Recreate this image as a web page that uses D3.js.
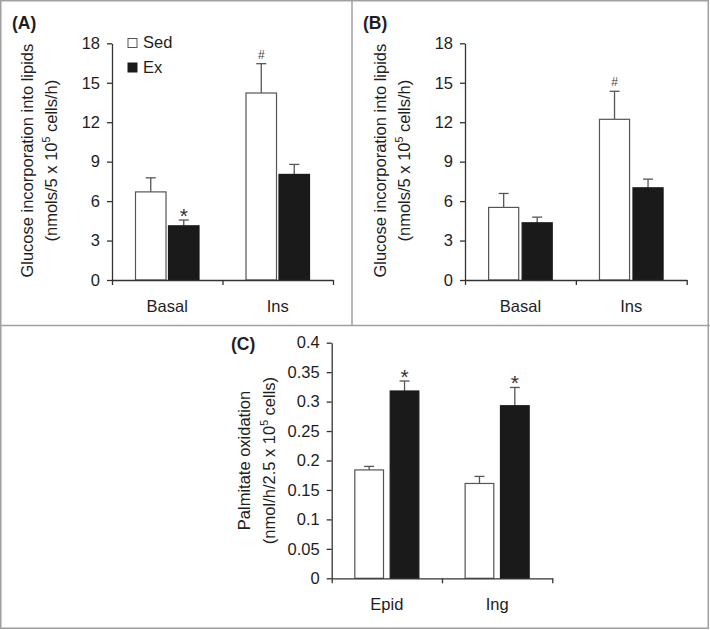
<!DOCTYPE html>
<html>
<head>
<meta charset="utf-8">
<script src="https://cdn.jsdelivr.net/npm/d3@7"></script>
<style>
  html, body { margin: 0; padding: 0; background: #fff; }
  svg { display: block; font-family: "Liberation Sans", Arial, sans-serif; }
</style>
</head>
<body>
<svg id="chart" width="710" height="630"></svg>
<script>
// ---------- data ----------
const seriesNames = ["Sed", "Ex"];
const categoriesAB = ["Basal", "Ins"];
const categoriesC = ["Epid", "Ing"];

const aSed = [6.7, 14.22];
const aSedErr = [1.07, 2.23];
const aEx = [4.12, 8.03];
const aExErr = [0.44, 0.76];

const bSed = [5.52, 12.22];
const bSedErr = [1.06, 2.13];
const bEx = [4.35, 7.01];
const bExErr = [0.43, 0.66];

const cSed = [0.184, 0.161];
const cSedErr = [0.006, 0.012];
const cEx = [0.318, 0.293];
const cExErr = [0.017, 0.031];

const ticksAB = [0, 3, 6, 9, 12, 15, 18];
const tickLabelsAB = ["0", "3", "6", "9", "12", "15", "18"];
const ticksC = [0, 0.05, 0.1, 0.15, 0.2, 0.25, 0.3, 0.35, 0.4];
const tickLabelsC = ["0", "0.05", "0.1", "0.15", "0.2", "0.25", "0.3", "0.35", "0.4"];

// annotations: [categoryIndex, seriesIndex, symbol]
const marksA = [[0, 1, "*"], [1, 0, "#"]];
const marksB = [[1, 0, "#"]];
const marksC = [[0, 1, "*"], [1, 1, "*"]];

// ---------- drawing ----------
const svg = d3.select("#chart");
const FONT = 16.5;
const TEXT = "#1e1e1e";
const AXIS = "#333";
const fills = ["#ffffff", "#1a1a1a"];
const strokes = ["#555", "#1a1a1a"];

// panel frames
const frame = svg.append("g").attr("fill", "none").attr("stroke", "#a0a0a0");
frame.append("rect").attr("x", 0.75).attr("y", 0.75).attr("width", 707.5).attr("height", 627.5).attr("stroke-width", 1.5);
frame.append("line").attr("x1", 352).attr("x2", 352).attr("y1", 0).attr("y2", 325.5).attr("stroke-width", 1.5);
frame.append("line").attr("x1", 0).attr("x2", 710).attr("y1", 325.5).attr("y2", 325.5).attr("stroke-width", 1.5);

function drawPanel(p) {
  const g = svg.append("g");
  const y = d3.scaleLinear().domain([0, p.yMax]).range([p.y0, p.y1]);
  const x0 = d3.scaleBand().domain(p.categories).range([p.xL, p.xR]).padding(0);
  const x1 = d3.scaleBand().domain(seriesNames).range([0, x0.bandwidth()])
    .paddingInner(p.pi).paddingOuter(p.po);
  const xEdge = d3.scaleLinear().domain([0, p.categories.length]).range([p.xL, p.xR]);

  // y axis
  const ya = g.append("g").attr("transform", `translate(${p.xL},0)`)
    .call(d3.axisLeft(y).tickValues(p.ticks).tickFormat((d, i) => p.tickLabels[i])
      .tickSize(5).tickSizeOuter(0).tickPadding(7));
  ya.select(".domain").attr("stroke", AXIS).attr("stroke-width", 1.3);
  ya.selectAll(".tick line").attr("stroke", AXIS).attr("stroke-width", 1.3);
  ya.selectAll(".tick text").attr("font-size", FONT).attr("fill", TEXT);
  ya.attr("font-family", null);

  // bars
  const rows = p.categories.map((c, i) => ({ c, vals: [
    { s: 0, v: p.sed[i], e: p.sedErr[i] },
    { s: 1, v: p.ex[i], e: p.exErr[i] }] }));
  const grp = g.selectAll("g.cat").data(rows).join("g")
    .attr("transform", d => `translate(${x0(d.c)},0)`);
  // error bars (drawn first, bar covers lower part)
  grp.selectAll("g.err").data(d => d.vals).join("g").each(function (d) {
    const cx = x1(seriesNames[d.s]) + x1.bandwidth() / 2;
    const sel = d3.select(this);
    sel.append("line").attr("x1", cx).attr("x2", cx).attr("y1", y(d.v)).attr("y2", y(d.v + d.e))
      .attr("stroke", "#555").attr("stroke-width", 1.3);
    sel.append("line").attr("x1", cx - 5).attr("x2", cx + 5).attr("y1", y(d.v + d.e)).attr("y2", y(d.v + d.e))
      .attr("stroke", "#555").attr("stroke-width", 1.3);
  });
  grp.selectAll("rect").data(d => d.vals).join("rect")
    .attr("x", d => x1(seriesNames[d.s]) + 0.5)
    .attr("width", x1.bandwidth() - 1)
    .attr("y", d => y(d.v))
    .attr("height", d => y(0) - y(d.v))
    .attr("fill", d => fills[d.s])
    .attr("stroke", d => strokes[d.s])
    .attr("stroke-width", 1.2);

  // x axis ticks at band edges
  const xa = g.append("g").attr("transform", `translate(0,${p.y0})`)
    .call(d3.axisBottom(xEdge).tickValues(d3.range(p.categories.length + 1)).tickFormat("")
      .tickSize(5).tickSizeOuter(0));
  xa.select(".domain").attr("stroke", AXIS).attr("stroke-width", 1.3);
  xa.selectAll(".tick line").attr("stroke", AXIS).attr("stroke-width", 1.3);
  // category labels
  const xl = g.append("g").attr("transform", `translate(0,${p.y0})`)
    .call(d3.axisBottom(x0).tickSize(0).tickPadding(20));
  xl.select(".domain").remove();
  xl.attr("font-family", null);
  xl.selectAll(".tick text").attr("font-size", FONT).attr("fill", TEXT).attr("dy", "0.71em");

  // annotations
  p.marks.forEach(([ci, si, sym]) => {
    const v = si === 0 ? p.sed[ci] + p.sedErr[ci] : p.ex[ci] + p.exErr[ci];
    const cx = x0(p.categories[ci]) + x1(seriesNames[si]) + x1.bandwidth() / 2;
    if (sym === "*") {
      g.append("text").attr("x", cx).attr("y", y(v) + 3).attr("text-anchor", "middle")
        .attr("font-size", 21).attr("fill", "#333").text(sym);
    } else {
      g.append("text").attr("x", cx).attr("y", y(v) - 5).attr("text-anchor", "middle")
        .attr("font-size", 12).attr("fill", "#444").text(sym);
    }
  });

  // panel label
  g.append("text").attr("x", p.labelX).attr("y", p.labelY).attr("font-size", 17.5)
    .attr("font-weight", "bold").attr("fill", TEXT).text(p.label);

  // y title
  const cy = (p.y0 + p.y1) / 2 + p.titleDy;
  g.append("text").attr("transform", `translate(${p.xL - p.t1off},${cy}) rotate(-90)`)
    .attr("text-anchor", "middle").attr("font-size", FONT).attr("fill", TEXT).text(p.title1);
  const t2 = g.append("text").attr("transform", `translate(${p.xL - p.t2off},${cy}) rotate(-90)`)
    .attr("text-anchor", "middle").attr("font-size", FONT).attr("fill", TEXT);
  t2.append("tspan").text(p.title2a);
  t2.append("tspan").attr("font-size", 10.5).attr("dy", -7).text("5");
  t2.append("tspan").attr("dy", 7).text(p.title2b);
  return { g, y, x0, x1 };
}

const pA = drawPanel({
  categories: categoriesAB, sed: aSed, sedErr: aSedErr, ex: aEx, exErr: aExErr,
  yMax: 18, ticks: ticksAB, tickLabels: tickLabelsAB,
  xL: 112, xR: 333, y0: 280, y1: 43.3, pi: 0.045, po: 0.697,
  marks: marksA, label: "(A)", labelX: 12, labelY: 29,
  title1: "Glucose incorporation into lipids", title2a: "(nmols/5 x 10", title2b: " cells/h)",
  t1off: 79, t2off: 55, titleDy: -1
});
drawPanel({
  categories: categoriesAB, sed: bSed, sedErr: bSedErr, ex: bEx, exErr: bExErr,
  yMax: 18, ticks: ticksAB, tickLabels: tickLabelsAB,
  xL: 465, xR: 686.7, y0: 280, y1: 43.3, pi: 0.072, po: 0.69,
  marks: marksB, label: "(B)", labelX: 363, labelY: 29,
  title1: "Glucose incorporation into lipids", title2a: "(nmols/5 x 10", title2b: " cells/h)",
  t1off: 79, t2off: 55, titleDy: -1
});
drawPanel({
  categories: categoriesC, sed: cSed, sedErr: cSedErr, ex: cEx, exErr: cExErr,
  yMax: 0.4, ticks: ticksC, tickLabels: tickLabelsC,
  xL: 331.7, xR: 552.3, y0: 578.3, y1: 342.7, pi: 0.161, po: 0.64,
  marks: marksC, label: "(C)", labelX: 231, labelY: 350,
  title1: "Palmitate oxidation", title2a: "(nmol/h/2.5 x 10", title2b: " cells)",
  t1off: 82, t2off: 57, titleDy: 0
});

// legend (panel A)
const leg = pA.g.append("g");
seriesNames.forEach((s, i) => {
  const ly = 38.5 + i * 24.5;
  leg.append("rect").attr("x", 128).attr("y", ly).attr("width", 9).attr("height", 9)
    .attr("fill", fills[i]).attr("stroke", strokes[i]).attr("stroke-width", 1);
  leg.append("text").attr("x", 143).attr("y", ly + 9.8).attr("font-size", FONT)
    .attr("fill", TEXT).text(s);
});
</script>
</body>
</html>
